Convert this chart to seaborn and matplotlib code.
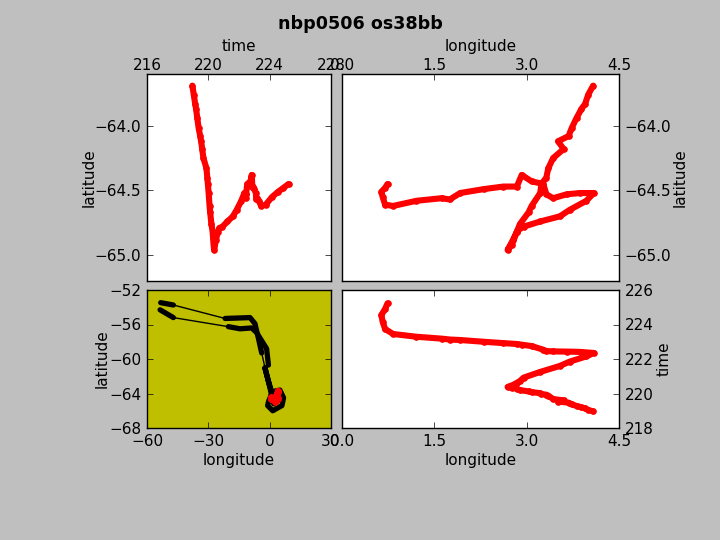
import pandas as pd
import seaborn as sns
import matplotlib
matplotlib.use("Agg")
import matplotlib.pyplot as plt

# local track
track_time = [218.96, 219.05, 219.14, 219.2, 219.28, 219.37, 219.47, 219.53, 219.6, 219.68,
              219.88, 219.93, 219.97, 220.02, 220.08, 220.12, 220.2, 220.28, 220.34, 220.38,
              220.5, 220.62, 220.72, 220.92, 221.25, 221.6, 221.85, 222.15, 222.35,
              222.41, 222.43, 222.44, 222.46, 222.54, 222.75, 222.83, 222.87, 222.92, 223.0,
              223.1, 223.13, 223.18, 223.29, 223.45, 223.74, 224.16, 224.55, 224.9, 225.23]
track_lon = [4.08, 4.0, 3.95, 3.89, 3.81, 3.73, 3.68, 3.51, 3.6, 3.43,
             3.35, 3.32, 3.24, 3.22, 3.08, 3.03, 2.89, 2.84, 2.76, 2.69,
             2.78, 2.84, 2.89, 2.95, 3.22, 3.54, 3.7, 3.97, 4.09,
             3.87, 3.65, 3.43, 3.32, 3.27, 3.08, 2.92, 2.84, 2.62, 2.3,
             1.92, 1.75, 1.62, 1.21, 0.83, 0.7, 0.66, 0.64, 0.7, 0.74]
track_lat = [-63.69, -63.76, -63.83, -63.87, -63.94, -64.02, -64.08, -64.12, -64.18, -64.25,
             -64.33, -64.4, -64.45, -64.52, -64.62, -64.67, -64.76, -64.82, -64.92, -64.96,
             -64.88, -64.82, -64.79, -64.78, -64.74, -64.7, -64.65, -64.58, -64.52,
             -64.52, -64.53, -64.56, -64.53, -64.45, -64.43, -64.38, -64.47, -64.47, -64.49,
             -64.52, -64.57, -64.56, -64.58, -64.62, -64.61, -64.55, -64.51, -64.48, -64.45]

# whole cruise track for the overview panel
cruise_lon = [-53.3, -47.1, -21.8, -9.6, -7.2, -5.5, -3.9, -2.3, -0.6, 1.0,
              5.0, 6.8, 6.0, 3.0, 1.5, -1.0, -0.5, 1.0, 4.0, 2.0, -0.6, -2.3, -0.6, -1.5,
              -6.5, -8.8, -14.5, -20.2, -47.1, -53.6]
cruise_lat = [-53.47, -53.74, -55.3, -55.2, -55.9, -57.6, -59.3, -61.0, -62.6, -63.8,
              -63.6, -64.5, -65.4, -65.8, -66.0, -65.4, -64.9, -64.0, -64.4, -65.2, -62.6, -61.1, -60.7, -58.8,
              -56.9, -56.4, -56.5, -56.25, -55.2, -54.3]
cruise_leg = [1, 1, 2, 2, 2, 2, 2, 3, 3, 3,
              3, 3, 3, 3, 3, 3, 3, 3, 3, 3, 3, 3, 4, 4,
              4, 4, 4, 4, 5, 5]

plt.style.use("classic")
plt.rcParams["lines.solid_capstyle"] = "round"
plt.rcParams["font.family"] = "DejaVu Sans"
plt.rcParams["font.size"] = 11
plt.rcParams["xtick.labelsize"] = 11
plt.rcParams["ytick.labelsize"] = 11
plt.rcParams["axes.labelsize"] = 11
plt.rcParams["ytick.alignment"] = "center_baseline"

W, H = 720, 540


def panel(left, top, right, bottom):
    return fig.add_axes([left / W, 1 - bottom / H, (right - left) / W, (bottom - top) / H])


def red_track(ax, x, y):
    sns.lineplot(x=x, y=y, ax=ax, color="red", sort=False, estimator=None,
                 linewidth=4.4, marker="o", markersize=4, markeredgecolor="red")


fig = plt.figure(figsize=(7.2, 5.4), dpi=100, facecolor="#bfbfbf")
fig.suptitle("nbp0506 os38bb", fontsize=12.6, fontweight="bold", x=0.5, y=0.972)

# top left: latitude against time
ax1 = panel(147, 74, 331, 281)
red_track(ax1, track_time, track_lat)
ax1.set_xlim(216, 228)
ax1.set_xticks([216, 220, 224, 228])
ax1.set_ylim(-65.2, -63.6)
ax1.set_yticks([-65, -64.5, -64])
ax1.set_yticklabels(["\u221265.0", "\u221264.5", "\u221264.0"])
ax1.xaxis.tick_top()
ax1.tick_params(axis="x", pad=1)
ax1.xaxis.set_label_position("top")
ax1.set_xlabel("time", labelpad=5)
ax1.set_ylabel("latitude", labelpad=-1)

# top right: latitude against longitude
ax2 = panel(342, 74, 619, 281)
red_track(ax2, track_lon, track_lat)
ax2.set_xlim(0, 4.5)
ax2.set_xticks([0, 1.5, 3, 4.5])
ax2.set_xticklabels(["0.0", "1.5", "3.0", "4.5"])
ax2.set_ylim(-65.2, -63.6)
ax2.set_yticks([-65, -64.5, -64])
ax2.set_yticklabels(["\u221265.0", "\u221264.5", "\u221264.0"])
ax2.xaxis.tick_top()
ax2.tick_params(axis="x", pad=1)
ax2.xaxis.set_label_position("top")
ax2.yaxis.tick_right()
ax2.yaxis.set_label_position("right")
ax2.set_xlabel("longitude", labelpad=5)
ax2.set_ylabel("latitude", labelpad=1)

# bottom left: overview of the cruise
ax3 = panel(147, 290, 331, 428)
ax3.set_facecolor((0.75, 0.75, 0))
cruise = pd.DataFrame({"lon": cruise_lon, "lat": cruise_lat, "leg": cruise_leg})
sns.lineplot(data=cruise, x="lon", y="lat", ax=ax3, color="black", sort=False,
             estimator=None, linewidth=1)
for leg, part in cruise.groupby("leg"):
    sns.lineplot(data=part, x="lon", y="lat", ax=ax3, color="black", sort=False,
                 estimator=None, linewidth=3.8)
red_track(ax3, track_lon, track_lat)
ax3.set_xlim(-60, 30)
ax3.set_xticks([-60, -30, 0, 30])
ax3.set_xticklabels(["\u221260", "\u221230", "0", "30"])
ax3.set_ylim(-68, -52)
ax3.set_yticks([-68, -64, -60, -56, -52])
ax3.set_yticklabels(["\u221268", "\u221264", "\u221260", "\u221256", "\u221252"])
ax3.set_xlabel("longitude", labelpad=3)
ax3.set_ylabel("latitude", labelpad=0)

# bottom right: time against longitude
ax4 = panel(342, 290, 619, 428)
red_track(ax4, track_lon, track_time)
ax4.set_xlim(0, 4.5)
ax4.set_xticks([0, 1.5, 3, 4.5])
ax4.set_xticklabels(["0.0", "1.5", "3.0", "4.5"])
ax4.set_ylim(218, 226)
ax4.set_yticks([218, 220, 222, 224, 226])
ax4.yaxis.tick_right()
ax4.yaxis.set_label_position("right")
ax4.set_xlabel("longitude", labelpad=3)
ax4.set_ylabel("time", labelpad=2)

fig.savefig("out.png", dpi=100, facecolor=fig.get_facecolor())
